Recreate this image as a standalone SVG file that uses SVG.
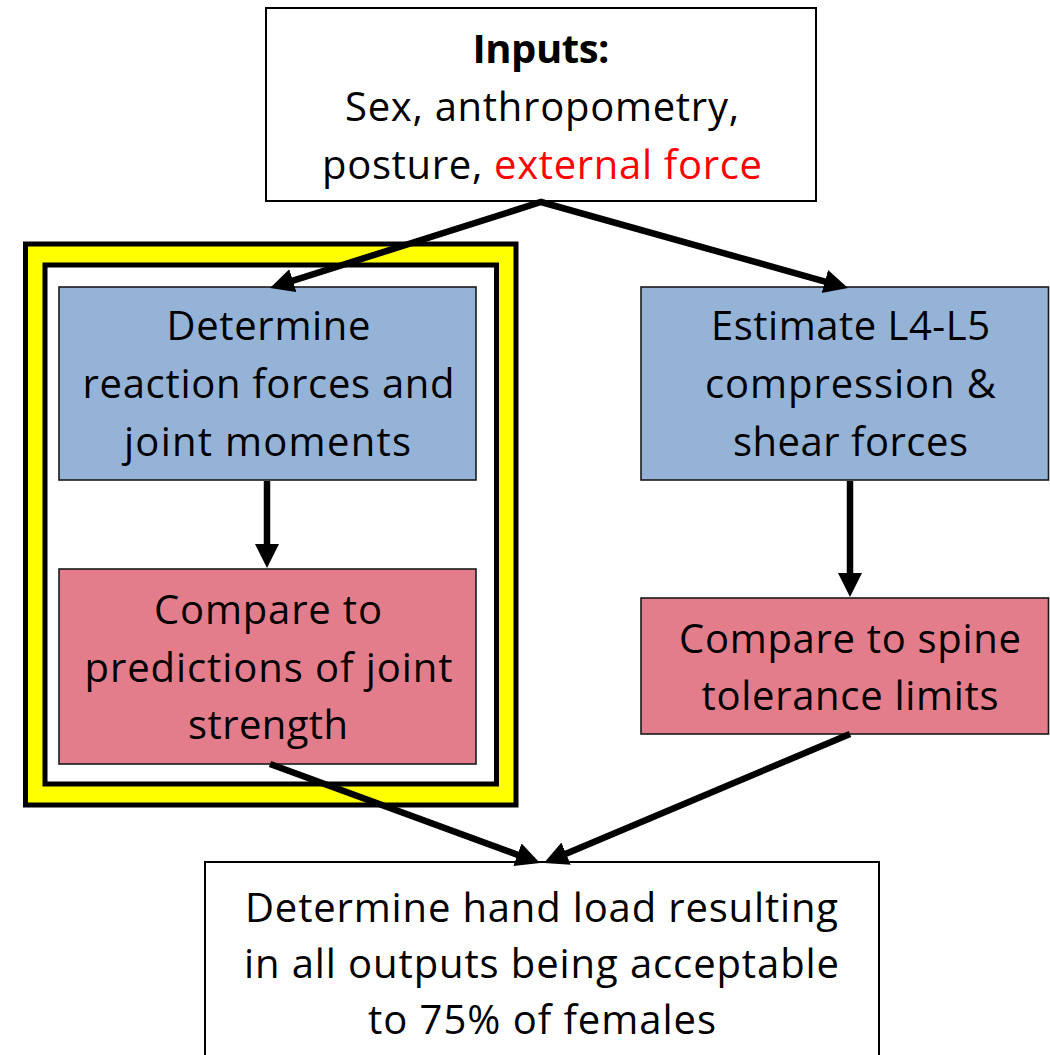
<svg xmlns="http://www.w3.org/2000/svg" width="1050" height="1055" viewBox="0 0 1050 1055">
<style>
  text { font-family: "Open Sans", "Noto Sans", "Liberation Sans", sans-serif; font-size: 40px; fill: #000; text-anchor: middle; }
  .bold { font-weight: bold; }
  .red { fill: #FF0000; }
  .box { stroke: #1a1a1a; stroke-width: 1.6; }
  .white { fill: #FFFFFF; stroke: #000; stroke-width: 2; }
  .blue { fill: #95B3D7; }
  .pink { fill: #E37D8C; }
  .conn { fill: none; stroke: #000; stroke-width: 6.5; stroke-linejoin: miter; stroke-miterlimit: 10; marker-end: url(#arrow); }
</style>
<defs>
  <marker id="arrow" markerUnits="userSpaceOnUse" markerWidth="26" markerHeight="26" refX="4" refY="12" orient="auto-start-reverse">
    <path d="M0,0 L24,12 L0,24 z" fill="#000"/>
  </marker>
</defs>
<rect width="1050" height="1055" fill="#FFFFFF"/>

<g id="highlight-frame">
  <rect x="25.5" y="244" width="490.5" height="561" fill="#FFFF00" stroke="#000" stroke-width="5"/>
  <rect x="45" y="265" width="451.5" height="519" fill="#FFFFFF" stroke="#000" stroke-width="5"/>
</g>

<g id="inputs">
  <rect class="white" x="266" y="8" width="550" height="193"/>
  <text class="bold" x="541" y="63" textLength="137">Inputs:</text>
  <text x="542" y="121" textLength="394">Sex, anthropometry,</text>
  <text x="542" y="179" textLength="440">posture, <tspan class="red">external force</tspan></text>
</g>

<g id="reaction-forces">
  <rect class="box blue" x="59" y="287" width="417" height="193"/>
  <text x="268.5" y="340" textLength="204">Determine</text>
  <text x="268.5" y="398" textLength="372">reaction forces and</text>
  <text x="267.5" y="456" textLength="287">joint moments</text>
</g>

<g id="joint-strength">
  <rect class="box pink" x="59" y="569" width="417" height="195"/>
  <text x="268" y="624" textLength="228">Compare to</text>
  <text x="268.5" y="682" textLength="368">predictions of joint</text>
  <text x="268" y="739" textLength="160">strength</text>
</g>

<g id="l4l5">
  <rect class="box blue" x="641" y="287" width="407.5" height="193"/>
  <text x="850.5" y="340" textLength="279">Estimate L4-L5</text>
  <text x="850.5" y="398" textLength="291">compression &amp;</text>
  <text x="850.5" y="456" textLength="235">shear forces</text>
</g>

<g id="spine-tolerance">
  <rect class="box pink" x="641" y="598" width="407.5" height="136"/>
  <text x="850" y="653" textLength="342">Compare to spine</text>
  <text x="850" y="710" textLength="297">tolerance limits</text>
</g>

<g id="hand-load">
  <rect class="white" x="205" y="862" width="674" height="210"/>
  <text x="541.5" y="922" textLength="593">Determine hand load resulting</text>
  <text x="541.5" y="978" textLength="595">in all outputs being acceptable</text>
  <text x="542" y="1034" textLength="348">to 75% of females</text>
</g>

<g id="connectors">
  <path class="conn" d="M289.1,281.9 L541,202 L828.7,282.6" style="marker-start:url(#arrow)"/>
  <path class="conn" d="M267,481 L267,548"/>
  <path class="conn" d="M850,481 L850,577"/>
  <path class="conn" d="M270,764 L521.2,856.1"/>
  <path class="conn" d="M850,734 L562.4,855.2"/>
</g>
</svg>
